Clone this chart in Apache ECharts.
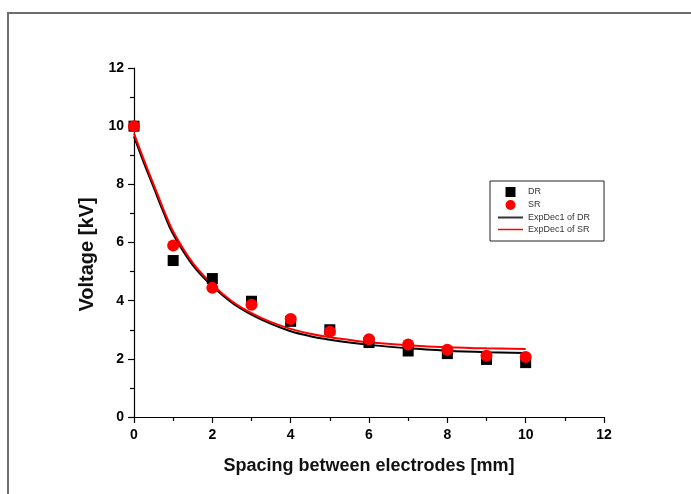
<!DOCTYPE html>
<html>
<head>
<meta charset="utf-8">
<script src="https://cdn.jsdelivr.net/npm/echarts@6/dist/echarts.min.js"></script>
<style>
  html, body { margin: 0; padding: 0; background: #ffffff; }
  #chart { width: 691px; height: 494px; }
</style>
</head>
<body>
<div id="chart"></div>
<script>
"use strict";

// measured points
var spacing = [0, 1, 2, 3, 4, 5, 6, 7, 8, 9, 10];
var drVoltage = [10, 5.38, 4.76, 3.98, 3.29, 3.0, 2.56, 2.27, 2.18, 1.98, 1.87];
var srVoltage = [10, 5.9, 4.44, 3.86, 3.37, 2.93, 2.67, 2.49, 2.31, 2.11, 2.06];

// fitted curves (ExpDec1)
var fitSpacing = [0, 0.25, 0.5, 0.75, 1, 1.5, 2, 2.5, 3, 3.5, 4, 4.5, 5, 5.5, 6, 7, 8, 9, 10];
var drFit = [9.65, 8.75, 7.9, 7.05, 6.28, 5.22, 4.5, 3.93, 3.52, 3.2, 2.95, 2.78, 2.66, 2.56, 2.48, 2.36, 2.28, 2.23, 2.2];
var srFit = [9.75, 8.85, 8.0, 7.15, 6.38, 5.3, 4.56, 3.98, 3.57, 3.26, 3.03, 2.86, 2.74, 2.65, 2.57, 2.47, 2.4, 2.36, 2.34];

var xTicks = [0, 2, 4, 6, 8, 10, 12];
var yTicks = [0, 2, 4, 6, 8, 10, 12];

function pairs(xs, ys) {
  return xs.map(function (x, i) { return [x, ys[i]]; });
}

var font = 'Liberation Sans, Arial, sans-serif';

var chart = echarts.init(document.getElementById('chart'));

var axisCommon = {
  type: 'value',
  interval: 2,
  axisLine: { show: true, onZero: false, lineStyle: { color: '#000', width: 1.2 } },
  axisTick: { show: true, inside: false, length: 6, lineStyle: { color: '#000', width: 1.2 } },
  minorTick: { show: true, splitNumber: 2, length: 4, lineStyle: { color: '#000', width: 1.2 } },
  splitLine: { show: false },
  axisLabel: { color: '#000', fontFamily: font, fontWeight: 'bold', fontSize: 14 },
  nameLocation: 'middle',
  nameTextStyle: { color: '#111', fontFamily: font, fontWeight: 'bold', fontSize: 18 }
};

var option = {
  backgroundColor: '#ffffff',
  animation: false,
  grid: { left: 134, right: 87, top: 68, bottom: 77 },
  graphic: [{
    type: 'rect',
    shape: { x: 8, y: 13, width: 720, height: 520 },
    style: { fill: 'none', stroke: '#6e6e6e', lineWidth: 2 },
    silent: true
  }],
  legend: {
    orient: 'vertical',
    left: 490,
    top: 181,
    padding: [6, 14, 7, 7],
    itemWidth: 25,
    itemHeight: 10,
    itemGap: 3,
    symbolKeepAspect: true,
    borderColor: '#222',
    borderWidth: 1,
    textStyle: { color: '#333', fontFamily: font, fontSize: 9 },
    data: [
      { name: 'DR', icon: 'path://M0,0h10v10h-10z' },
      { name: 'SR', icon: 'circle' },
      { name: 'ExpDec1 of DR', itemStyle: { opacity: 0 }, lineStyle: { color: '#333', width: 2 } },
      { name: 'ExpDec1 of SR', itemStyle: { opacity: 0 }, lineStyle: { color: '#ff0000', width: 1.5 } }
    ]
  },
  xAxis: Object.assign({}, axisCommon, {
    min: 0, max: 12,
    name: 'Spacing between electrodes [mm]',
    nameGap: 40,
    axisLabel: Object.assign({}, axisCommon.axisLabel, {
      margin: 11,
      formatter: function (v) { return xTicks.indexOf(v) >= 0 ? String(v) : ''; }
    })
  }),
  yAxis: Object.assign({}, axisCommon, {
    min: 0, max: 12,
    name: 'Voltage [kV]',
    nameGap: 37,
    nameTextStyle: Object.assign({}, axisCommon.nameTextStyle, { fontSize: 20, padding: [0, 24, 0, 0] }),
    axisLabel: Object.assign({}, axisCommon.axisLabel, {
      margin: 10,
      formatter: function (v) { return yTicks.indexOf(v) >= 0 ? String(v) : ''; }
    })
  }),
  series: [
    {
      name: 'ExpDec1 of DR',
      type: 'line',
      data: pairs(fitSpacing, drFit),
      symbol: 'none',
      smooth: 0.4,
      lineStyle: { color: '#000', width: 2 },
      itemStyle: { color: '#000' },
      z: 2
    },
    {
      name: 'ExpDec1 of SR',
      type: 'line',
      data: pairs(fitSpacing, srFit),
      symbol: 'none',
      smooth: 0.4,
      lineStyle: { color: '#ff0000', width: 2 },
      itemStyle: { color: '#ff0000' },
      z: 3
    },
    {
      name: 'DR',
      type: 'scatter',
      data: pairs(spacing, drVoltage),
      symbol: 'rect',
      symbolSize: 11,
      itemStyle: { color: '#000', opacity: 1 },
      z: 4
    },
    {
      name: 'SR',
      type: 'scatter',
      data: pairs(spacing, srVoltage),
      symbol: 'circle',
      symbolSize: 12,
      itemStyle: { color: '#ff0000', opacity: 1 },
      z: 5
    }
  ]
};

chart.setOption(option);
</script>
</body>
</html>
